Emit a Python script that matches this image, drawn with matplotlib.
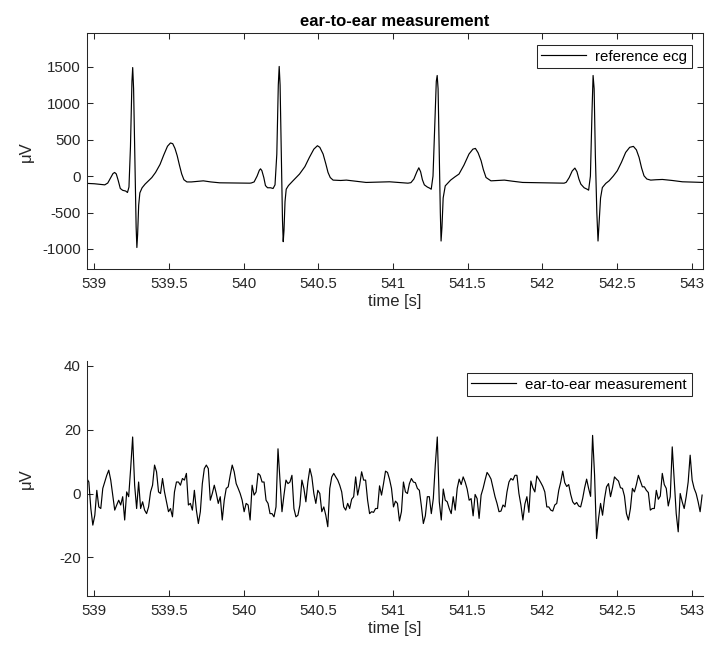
import numpy as np
import matplotlib
matplotlib.use("Agg")
import matplotlib.pyplot as plt
from matplotlib.ticker import FuncFormatter

# ---------------- data ----------------
# reference ECG (time [s], value [uV])
ecg_t = [
    538.95, 539.00, 539.05, 539.07, 539.09, 539.11, 539.125, 539.136, 539.147, 539.16,
    539.174, 539.19, 539.21, 539.222, 539.232, 539.242, 539.252, 539.257, 539.263, 539.272,
    539.28, 539.285, 539.29, 539.297, 539.305, 539.32, 539.34, 539.36, 539.385, 539.41,
    539.44, 539.465, 539.49, 539.51, 539.525, 539.54, 539.555, 539.57, 539.585, 539.60,
    539.62, 539.65, 539.70, 539.73, 539.78, 539.84, 539.95, 540.04,
    540.05, 540.07, 540.09, 540.105, 540.113, 540.122, 540.135, 540.146, 540.16, 540.18,
    540.197, 540.21, 540.222, 540.232, 540.238, 540.244, 540.253, 540.26, 540.265, 540.27,
    540.277, 540.285, 540.30, 540.33, 540.374, 540.41, 540.44, 540.47, 540.494, 540.51,
    540.532, 540.55, 540.565, 540.58, 540.599, 540.65, 540.688, 540.75, 540.82, 540.977,
    541.05, 541.10,
    541.12, 541.14, 541.16, 541.173, 541.185, 541.197, 541.21, 541.23, 541.245, 541.256,
    541.268, 541.28, 541.29, 541.296, 541.302, 541.31, 541.317, 541.322, 541.328, 541.336,
    541.35, 541.386, 541.415, 541.442, 541.475, 541.509, 541.535, 541.552, 541.57, 541.59,
    541.605, 541.623, 541.656, 541.70, 541.746, 541.80, 541.868, 542.0, 542.146,
    542.16, 542.18, 542.20, 542.218, 542.232, 542.245, 542.258, 542.28, 542.30, 542.31,
    542.322, 542.333, 542.34, 542.347, 542.355, 542.365, 542.373, 542.38, 542.39, 542.402,
    542.425, 542.447, 542.475, 542.502, 542.53, 542.558, 542.585, 542.61, 542.63, 542.648,
    542.665, 542.681, 542.70, 542.726, 542.76, 542.804, 542.87, 542.938, 543.0, 543.08,
]
ecg_v = [
    -100, -105, -115, -120, -95, -20, 35, 50, 30, -60,
    -170, -195, -205, -225, -150, 400, 1300, 1490, 1200, 200,
    -700, -980, -800, -400, -230, -160, -110, -70, -20, 50,
    160, 290, 410, 455, 445, 380, 280, 150, 30, -50,
    -80, -80, -70, -65, -80, -92, -95, -97,
    -95, -80, 0, 80, 100, 75, -20, -130, -160, -160,
    -170, -120, 300, 1250, 1505, 1250, 200, -600, -900, -750,
    -350, -180, -130, -65, 28, 130, 256, 370, 417, 395,
    303, 170, 50, -20, -55, -60, -55, -70, -87, -78,
    -90, -97,
    -90, -40, 60, 114, 60, -50, -120, -150, -165, -180,
    0, 700, 1300, 1381, 1200, 300, -500, -891, -700, -300,
    -134, -55, -10, 28, 150, 303, 370, 380, 320, 211,
    90, -19, -65, -60, -55, -70, -87, -92, -97,
    -85, -20, 70, 110, 60, -40, -110, -160, -180, -193,
    0, 900, 1381, 1200, 300, -500, -891, -650, -300, -157,
    -100, -65, 0, 73, 190, 325, 395, 408, 360, 256,
    110, 4, -40, -55, -50, -46, -60, -78, -82, -87,
]

# ear-to-ear measurement [uV], read at a uniform rate
ear_t0 = 538.95      # s, first sample
ear_fs = 75.0        # samples per second
ear_v = [
    4.7, 3.6, -4.7, -9.9, -6.8, 1.0, -4.2, -4.7, 1.6, 3.6,
    5.7, 7.3, 4.2, -0.5, -5.2, -3.6, -2.1, -3.6, -1.0, -8.3,
    0.5, -1.0, 7.8, 17.7, 2.6, -4.7, 3.6, -4.7, -2.6, -5.2,
    -6.3, -4.2, 0.5, 2.6, 8.9, 6.8, 0.5, 0.0, 4.7, 0.5,
    -2.6, -5.7, -4.7, -7.3, 0.5, 3.6, 3.6, 2.6, 4.7, 4.2,
    6.3, -3.6, -3.1, -5.2, 1.0, -5.2, -9.4, -5.7, 3.1, 7.8,
    8.9, 7.8, -2.1, 0.0, 2.6, 0.0, -3.1, -1.0, -8.3, -2.1,
    1.6, 2.1, 5.7, 8.9, 6.8, 3.1, 1.6, 0.0, -2.1, -5.7,
    -3.1, -3.6, -8.3, 2.6, -0.5, 0.5, 6.3, 5.7, 3.6, 3.6,
    -2.1, -3.1, -6.3, -6.3, -7.3, -4.2, 14.0, 4.2, -5.7, -0.5,
    4.2, 3.1, 3.6, 5.7, -4.7, -7.3, -6.8, -3.6, 4.2, 1.6,
    -2.6, 3.6, 7.8, 5.2, 0.0, -3.1, 1.0, 0.0, -5.7, -4.2,
    -6.8, -10.4, 1.6, 5.2, 6.3, 5.2, 4.2, 2.6, 0.5, -4.2,
    -5.2, -3.1, -4.7, -1.8, -1.0, 5.2, -0.5, 2.6, 6.8, 4.2,
    4.2, -2.1, -6.3, -5.7, -5.9, -4.7, -4.7, 2.4, -0.5, 3.1,
    7.0, 6.6, 4.5, 1.6, -4.2, -2.4, -3.1, -8.6, -5.7,
    3.6, 0.5, 0.0, 3.1, 4.7, 3.6, 3.4, 1.6, 1.0, -3.9,
    -9.4, -7.0, -1.0, -1.0, -6.3, -1.6, 8.9, 17.7, -2.6, -8.3,
    1.4, -2.1, -2.6, -4.7, -6.3, -1.0, -5.2, 1.6, 4.5, 2.8,
    5.2, 3.6, 1.4, -2.1, -1.6, -7.0, -0.3, -1.6, -7.8, -0.5,
    1.6, 4.2, 6.6, 5.7, 4.5, 1.8, -1.0, -3.1, -5.7, -5.5,
    -3.6, -4.2, 0.5, 3.6, 4.7, 4.2, 5.7, 5.7, 0.0, -3.6,
    -8.3, -3.3, -1.0, -5.9, 3.9, 1.8, 0.5, 5.5, 4.5, 3.4,
    2.2, 0.5, -4.2, -4.2, -5.2, -5.5, -3.6, -3.1, 1.0,
    3.6, 7.0, 3.4, 2.2, 2.8, -0.3, -2.6, -3.4, -2.8, -3.9,
    -4.2, -1.6, 1.8, 4.5, 1.6, -0.9, 18.2, 5.7, -14.1, -7.8,
    -3.1, -6.8, -1.6, 2.1, 3.1, -1.0, 1.8, 5.2, 4.5, 3.9,
    1.8, 1.6, -0.8, -6.3, -8.3, -4.7, 1.6, 0.5, 2.8, 5.7,
    3.9, 2.1, 2.1, 1.0, 0.3, -5.2, -4.7, -4.7, 1.0, -1.8,
    -0.8, 6.3, 2.8, 1.6, -3.9, -1.0, 14.6, 4.2, -6.3, -12.0,
    0.0, -2.6, -4.7, -1.0, 3.6, 12.0, 4.2, 1.6, 0.0, -2.6,
    -5.7, -0.5,
]

x_ticks = [539, 539.5, 540, 540.5, 541, 541.5, 542, 542.5, 543]
y_ticks_top = [-1000, -500, 0, 500, 1000, 1500]
y_ticks_bottom = [-20, 0, 20, 40]
title_text = "ear-to-ear measurement"
legend_top = "reference ecg"
legend_bottom = "ear-to-ear measurement"
x_label = "time [s]"
y_label = "\u03bcV"

# ---------------- style ----------------
plt.rcParams['font.family'] = ['Liberation Sans', 'DejaVu Sans']
plt.rcParams['axes.unicode_minus'] = False
GRAY = '#262626'

W, H = 707, 648
fig = plt.figure(figsize=(W / 100, H / 100), dpi=100)
ax1 = fig.add_axes([87 / W, 1 - 269 / H, 616.3 / W, 235.7 / H])
ax2 = fig.add_axes([87 / W, 1 - 596 / H, 616.3 / W, 235 / H])


def style(ax, box):
    for s in ax.spines.values():
        s.set_color(GRAY)
        s.set_linewidth(0.75)
    if not box:
        ax.spines['top'].set_visible(False)
        ax.spines['right'].set_visible(False)
    ax.tick_params(direction='in', length=4.5, width=0.75, colors=GRAY,
                   labelsize=10.8, top=box, right=box)
    ax.tick_params(axis='x', pad=6.0)
    ax.tick_params(axis='y', pad=4.5)
    ax.xaxis.set_major_formatter(FuncFormatter(lambda v, p: f"{v:g}"))
    ax.yaxis.set_major_formatter(FuncFormatter(lambda v, p: f"{v:g}"))
    ax.set_xticks(x_ticks)
    ax.set_xlim(538.951, 543.078)
    ax.set_xlabel(x_label, fontsize=12, color=GRAY)
    ax.xaxis.set_label_coords(0.5, -0.105)
    ax.set_ylabel(y_label, fontsize=12, color=GRAY)
    ax.yaxis.set_label_coords(-0.086, 0.5)


ax1.plot(ecg_t, ecg_v, color='black', lw=0.85, label=legend_top)
style(ax1, True)
ax1.set_yticks(y_ticks_top)
ax1.set_ylim(-1275, 1960)
ax1.set_title(title_text, fontsize=12, fontweight='bold', pad=5, color='black')

ear_t = ear_t0 + np.arange(len(ear_v)) / ear_fs
ax2.plot(ear_t, ear_v, color='black', lw=0.85, label=legend_bottom)
style(ax2, False)
ax2.set_yticks(y_ticks_bottom)
ax2.set_ylim(-32.1, 41.5)

for ax, top in ((ax1, 0.950), (ax2, 0.948)):
    leg = ax.legend(loc='upper right', bbox_to_anchor=(0.981, top), borderaxespad=0,
                    fancybox=False, framealpha=1, edgecolor=GRAY, fontsize=10.8,
                    handlelength=3.0, handletextpad=0.6, borderpad=0.3)
    leg.get_frame().set_linewidth(0.75)

fig.savefig("out.png", dpi=100)
